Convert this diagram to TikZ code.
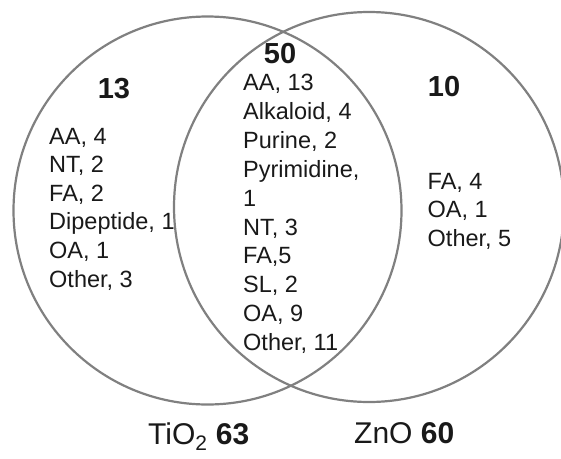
\documentclass[tikz,border=0pt]{standalone}
\usepackage{fontspec}
\setmainfont{Liberation Sans}
\begin{document}
\begin{tikzpicture}[x=1pt,y=-1pt,
  ring/.style={draw=black!50,line width=2.2pt},
  item/.style={anchor=base west,inner sep=0pt,text=black!90,font=\fontsize{23.5}{28}\selectfont},
  count/.style={anchor=base,inner sep=0pt,text=black!90,font=\fontsize{29}{32}\selectfont\bfseries},
  setlabel/.style={anchor=base west,inner sep=0pt,text=black!90,font=\fontsize{30}{34}\selectfont}]
\useasboundingbox (0,0) rectangle (561,458);
\draw[ring] (207.5,210.5) circle[radius=194];
\draw[ring] (369,207) circle[radius=195];
\node[count] (n13) at (114,98) {13};
\node[count] (n50) at (280,63) {50};
\node[count] (n10) at (444,96) {10};
\foreach \t [count=\i] in {{AA, 4},{NT, 2},{FA, 2},{Dipeptide, 1},{OA, 1},{Other, 3}}
  \node[item] (l\i) at (49,{144+28.6*(\i-1)}) {\t};
\foreach \t [count=\i] in {{AA, 13},{Alkaloid, 4},{Purine, 2},{Pyrimidine,},{1},{NT, 3},{FA,5},{SL, 2},{OA, 9},{Other, 11}}
  \node[item] (m\i) at (243,{90.5+28.9*(\i-1)}) {\t};
\foreach \t [count=\i] in {{FA, 4},{OA, 1},{Other, 5}}
  \node[item] (r\i) at (427.5,{189+28.8*(\i-1)}) {\t};
\node[setlabel] (tio) at (148,444) {TiO\textsubscript{2} \textbf{63}};
\node[setlabel] (zno) at (354,443) {ZnO \textbf{60}};
\end{tikzpicture}
\end{document}
